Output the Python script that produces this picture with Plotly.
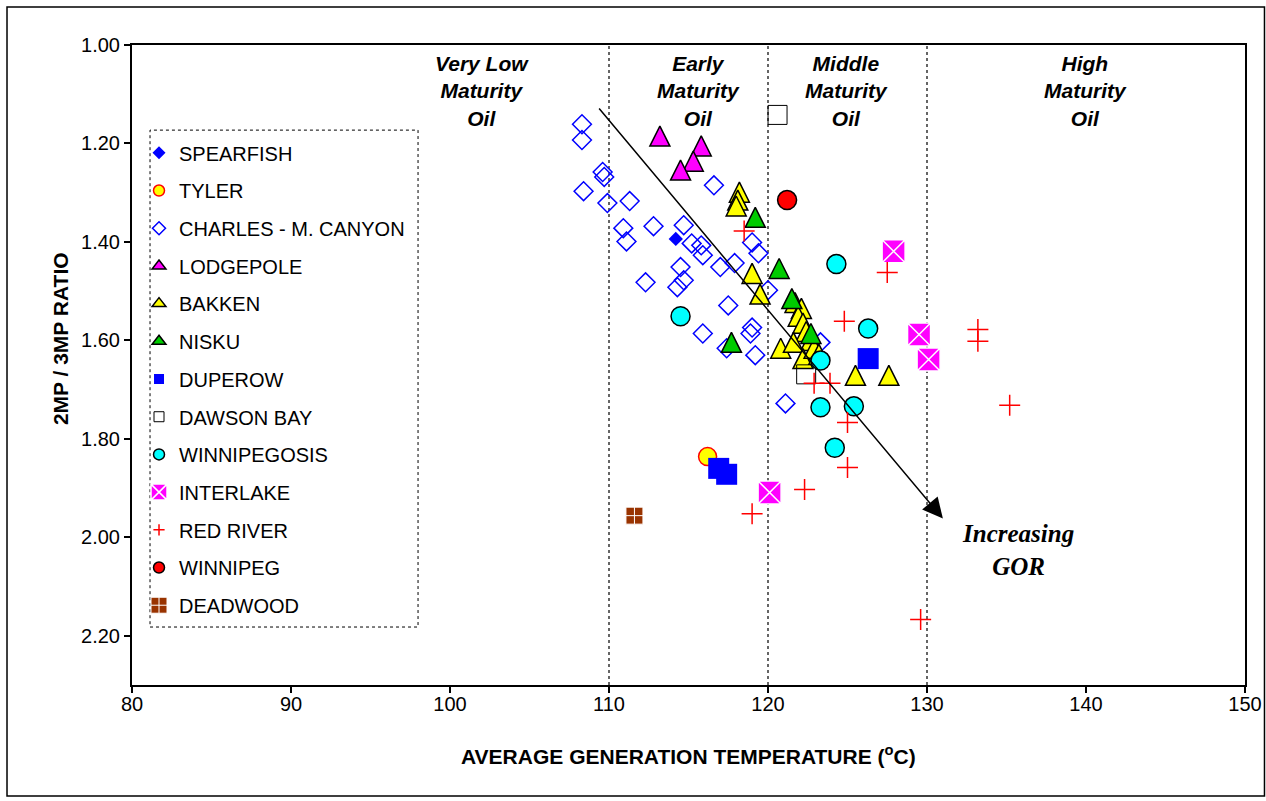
import plotly.graph_objects as go

# ---------------- data ----------------
spearfish_t = [114.2]
spearfish_r = [1.394]

tyler_t = [116.2]
tyler_r = [1.836]

charles_t = [108.3, 108.3, 109.6, 109.7, 108.4, 109.9, 111.3, 110.9, 111.1, 112.8,
             114.7, 115.2, 115.8, 115.9, 116.6, 114.5, 114.3, 114.7, 112.3, 117.0,
             117.9, 117.5, 115.9, 119.0, 118.9, 117.4, 119.2, 119.0, 119.4, 120.0,
             121.1, 123.3]
charles_r = [1.161, 1.193, 1.258, 1.268, 1.297, 1.321, 1.317, 1.372, 1.399, 1.368,
             1.366, 1.403, 1.407, 1.427, 1.285, 1.451, 1.492, 1.478, 1.482, 1.451,
             1.443, 1.529, 1.586, 1.574, 1.586, 1.616, 1.630, 1.401, 1.423, 1.498,
             1.728, 1.604]

lodgepole_t = [113.2, 115.8, 115.3, 114.5]
lodgepole_r = [1.185, 1.205, 1.236, 1.254]

bakken_t = [118.2, 118.1, 118.0, 119.0, 119.5, 121.7, 122.1, 121.9, 122.2, 122.4,
            122.7, 120.8, 121.6, 122.2, 122.9, 123.2, 125.5, 127.6]
bakken_r = [1.299, 1.315, 1.327, 1.464, 1.506, 1.523, 1.535, 1.551, 1.565, 1.582,
            1.600, 1.616, 1.604, 1.637, 1.616, 1.628, 1.671, 1.671]

nisku_t = [119.2, 120.7, 121.5, 122.7, 117.7]
nisku_r = [1.350, 1.454, 1.515, 1.586, 1.604]

duperow_t = [116.9, 117.4, 126.3]
duperow_r = [1.860, 1.872, 1.637]

dawson_t = [120.6, 122.4]
dawson_r = [1.142, 1.669]

winnipegosis_t = [114.5, 124.3, 126.3, 123.3, 123.3, 125.4, 124.2]
winnipegosis_r = [1.551, 1.445, 1.576, 1.641, 1.736, 1.734, 1.818]

interlake_t = [127.9, 129.5, 130.1, 120.1]
interlake_r = [1.419, 1.588, 1.639, 1.909]

redriver_t = [118.5, 127.5, 124.8, 122.9, 123.9, 125.0, 125.0, 122.3, 119.0, 129.6,
              133.2, 133.2, 135.2]
redriver_r = [1.378, 1.462, 1.561, 1.687, 1.687, 1.767, 1.858, 1.903, 1.952, 2.167,
              1.578, 1.602, 1.732]

winnipeg_t = [121.2]
winnipeg_r = [1.315]

deadwood_t = [111.6]
deadwood_r = [1.956]

divider_temps = [110, 120, 130]
maturity_labels = ["Very Low<br>Maturity<br>Oil", "Early<br>Maturity<br>Oil",
                   "Middle<br>Maturity<br>Oil", "High<br>Maturity<br>Oil"]
maturity_label_t = [102.0, 115.6, 124.95, 139.95]
maturity_label_r = 1.093

arrow_start = (109.3, 1.126)
arrow_end = (131.0, 1.962)

x_ticks = [80, 90, 100, 110, 120, 130, 140, 150]
y_ticks = [1.0, 1.2, 1.4, 1.6, 1.8, 2.0, 2.2]

# ---------------- figure ----------------
ARIAL = "Liberation Sans, Arial, sans-serif"
fig = go.Figure()

# plot-area triangle: arrow shape turned upright, centred on the point
tri = dict(symbol="arrow-down", angle=180, standoff=10, size=20)
# legend triangle
ltri = dict(symbol="triangle-up", size=12)

series = [
    ("SPEARFISH", spearfish_t, spearfish_r,
     dict(symbol="diamond", size=11, color="#0000FF", line=dict(width=0)),
     dict(symbol="diamond", size=10)),
    ("TYLER", tyler_t, tyler_r,
     dict(symbol="circle", size=18, color="#FFFF00", line=dict(color="#FF0000", width=1.5)),
     dict(symbol="circle", size=11)),
    ("CHARLES - M. CANYON", charles_t, charles_r,
     dict(symbol="diamond-open", size=14.5, color="#0000FF", line=dict(color="#0000FF", width=1.5)),
     dict(symbol="diamond-open", size=10)),
    ("LODGEPOLE", lodgepole_t, lodgepole_r,
     dict(**tri, color="#FF00FF", line=dict(color="#000000", width=1.5)), ltri),
    ("BAKKEN", bakken_t, bakken_r,
     dict(**tri, color="#FFFF00", line=dict(color="#000000", width=1.5)), ltri),
    ("NISKU", nisku_t, nisku_r,
     dict(**tri, color="#00CC00", line=dict(color="#000000", width=1.5)), ltri),
    ("DUPEROW", duperow_t, duperow_r,
     dict(symbol="square", size=21, color="#0000FF", line=dict(width=0)),
     dict(symbol="square", size=10)),
    ("DAWSON BAY", dawson_t, dawson_r,
     dict(symbol="square-open", size=19, color="#000000", line=dict(color="#000000", width=1)),
     dict(symbol="square-open", size=10)),
    ("WINNIPEGOSIS", winnipegosis_t, winnipegosis_r,
     dict(symbol="circle", size=19, color="#00FFFF", line=dict(color="#000000", width=1.5)),
     dict(symbol="circle", size=11)),
    ("INTERLAKE", interlake_t, interlake_r,
     dict(symbol="square-x", size=23, color="#FF00FF", line=dict(color="#FFFFFF", width=1.5)),
     dict(symbol="square-x", size=16)),
    ("RED RIVER", redriver_t, redriver_r,
     dict(symbol="cross-thin", size=15, color="#FF0000", line=dict(color="#FF0000", width=1.5)),
     dict(symbol="cross-thin", size=8)),
    ("WINNIPEG", winnipeg_t, winnipeg_r,
     dict(symbol="circle", size=19, color="#FF0000", line=dict(color="#000000", width=1.5)),
     dict(symbol="circle", size=11)),
    ("DEADWOOD", deadwood_t, deadwood_r,
     dict(symbol="square-cross", size=17, color="#993300", line=dict(color="#FFFFFF", width=1)),
     dict(symbol="square-cross", size=16)),
]

# data marks
for name, xs, ys, mk, _ in series:
    fig.add_trace(go.Scatter(x=xs, y=ys, mode="markers", name=name, marker=mk,
                             showlegend=False, legendgroup=name, hoverinfo="x+y+name"))

# legend entries (same styles, legend-sized symbols)
for name, xs, ys, mk, lmk in series:
    legend_marker = dict(mk)
    legend_marker.pop("angle", None)
    legend_marker.pop("standoff", None)
    legend_marker.update(lmk)
    fig.add_trace(go.Scatter(x=[None], y=[None], mode="markers", name=name,
                             marker=legend_marker, showlegend=True, legendgroup=name,
                             hoverinfo="skip"))

# dotted maturity dividers
for t in divider_temps:
    fig.add_shape(type="line", xref="x", yref="paper", x0=t, x1=t, y0=0, y1=1,
                  line=dict(color="#333333", width=1.5, dash="dot"), layer="below")

# maturity labels
for lbl, t in zip(maturity_labels, maturity_label_t):
    fig.add_annotation(x=t, y=maturity_label_r, xref="x", yref="y", text=lbl,
                       showarrow=False, align="center", xanchor="center", yanchor="middle",
                       font=dict(family=ARIAL, size=21, color="#000000", style="italic",
                                 weight="bold"))

# trend arrow
fig.add_annotation(x=arrow_end[0], y=arrow_end[1], ax=arrow_start[0], ay=arrow_start[1],
                   xref="x", yref="y", axref="x", ayref="y", text="", showarrow=True,
                   arrowhead=2, arrowsize=2.7, arrowwidth=1.5, arrowcolor="#000000")

fig.add_annotation(x=135.7, y=2.025, xref="x", yref="y", text="Increasing<br>GOR",
                   showarrow=False, align="center", xanchor="center", yanchor="middle",
                   font=dict(family="Liberation Serif, Times New Roman, serif", size=25,
                             color="#000000", style="italic", weight="bold"))

# axis titles
fig.add_annotation(x=-0.0647, y=0.542, xref="paper", yref="paper", text="2MP / 3MP RATIO",
                   textangle=-90, showarrow=False, xanchor="center", yanchor="middle",
                   font=dict(family=ARIAL, size=21, color="#000000", weight="bold"))
fig.add_annotation(x=0.5, y=-0.109, xref="paper", yref="paper",
                   text="AVERAGE GENERATION TEMPERATURE (<sup>o</sup>C)",
                   showarrow=False, xanchor="center", yanchor="middle",
                   font=dict(family=ARIAL, size=21, color="#000000", weight="bold"))

# legend frame (dotted) and outer chart frame
fig.add_shape(type="rect", xref="paper", yref="paper", x0=0.0162, x1=0.257, y0=0.0906, y1=0.867,
              line=dict(color="#000000", width=1, dash="dot"), fillcolor="rgba(0,0,0,0)")
fig.add_shape(type="rect", xref="paper", yref="paper", x0=-0.1123, x1=1.0175, y0=-0.1734, y1=1.0594,
              line=dict(color="#000000", width=1.5), fillcolor="rgba(0,0,0,0)")

fig.update_xaxes(range=[80, 150], tickvals=x_ticks, showline=True, mirror=True, linecolor="#000000",
                 linewidth=2, ticks="outside", ticklen=6, tickwidth=1.5, tickcolor="#000000",
                 showgrid=False, zeroline=False, automargin=False, ticklabelstandoff=-6,
                 tickfont=dict(family=ARIAL, size=20, color="#000000"))
fig.update_yaxes(range=[2.30, 1.00], tickvals=y_ticks, tickformat=".2f", showline=True, mirror=True,
                 linecolor="#000000", linewidth=2, ticks="outside", ticklen=6, tickwidth=1.5,
                 tickcolor="#000000", showgrid=False, zeroline=False, automargin=False,
                 tickfont=dict(family=ARIAL, size=20, color="#000000"))

fig.update_layout(
    width=1266, height=801,
    margin=dict(l=132, r=21, t=45, b=116),
    paper_bgcolor="#FFFFFF", plot_bgcolor="#FFFFFF",
    showlegend=True,
    legend=dict(x=0.0063, y=0.862, xanchor="left", yanchor="top", bgcolor="rgba(0,0,0,0)",
                borderwidth=0, itemsizing="trace", tracegroupgap=8.7,
                font=dict(family=ARIAL, size=20, color="#000000")),
    font=dict(family=ARIAL),
)

fig.write_html("out.html")
